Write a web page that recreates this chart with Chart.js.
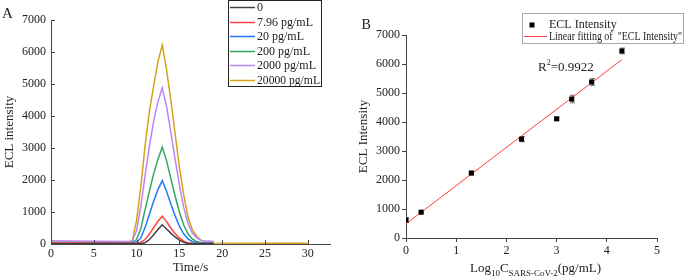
<!DOCTYPE html>
<html>
<head>
<meta charset="utf-8">
<script src="https://cdn.jsdelivr.net/npm/chart.js@4.4.1/dist/chart.umd.min.js"></script>
<style>
    html, body { margin: 0; padding: 0; background: #fff; }
    #wrap { position: relative; width: 685px; height: 280px; }
    #chartA { position: absolute; left: 0; top: 0; }
    #chartB { position: absolute; left: 340px; top: 0; }
</style>
</head>
<body>
<div id="wrap">
    <canvas id="chartA" width="340" height="280"></canvas>
    <canvas id="chartB" width="345" height="280"></canvas>
</div>
<script>
// ---- panel A data (time scan) ----
var times = [0, 5, 9, 9.5, 10, 10.5, 11, 11.5, 12, 12.5, 13, 13.5, 14, 14.5, 15, 15.5, 16, 16.5, 17, 17.5, 18, 19];
var timeTicks = [0, 5, 10, 15, 20, 25, 30];
var seriesLabels = ['0', '7.96 pg/mL', '20 pg/mL', '200 pg/mL', '2000 pg/mL', '20000 pg/mL'];
var seriesColors = ['#404040', '#ff4040', '#2277ff', '#30a860', '#b985f5', '#d6a21a'];
var blank0 = [10, 10, 10, 10, 10, 12, 40, 140, 290, 450, 600, 470, 340, 220, 120, 50, 15, 5, 5, 5, 5, 5];
var conc796 = [30, 28, 25, 25, 28, 55, 140, 310, 510, 710, 870, 700, 500, 330, 190, 90, 40, 20, 15, 15, 15, 15];
var conc20 = [30, 28, 26, 28, 55, 190, 520, 930, 1340, 1700, 1980, 1650, 1250, 880, 560, 320, 160, 80, 40, 25, 20, 20];
var conc200 = [45, 42, 38, 42, 140, 480, 1080, 1650, 2200, 2650, 3030, 2600, 2050, 1500, 1000, 600, 320, 160, 80, 50, 40, 35];
var conc2000 = [100, 88, 78, 90, 420, 1180, 2150, 3050, 3850, 4450, 4880, 4300, 3500, 2650, 1850, 1150, 650, 350, 200, 120, 90, 75];
var conc20000 = [55, 50, 45, 110, 740, 1800, 3100, 4150, 4950, 5700, 6220, 5450, 4500, 3450, 2400, 1550, 850, 450, 250, 120, 60, 30];
var tailTimes = [30];
var tail20000 = [20];

// ---- panel B data (calibration) ----
var logConc = [0, 0.301, 1.301, 2.301, 3.0, 3.301, 3.699, 4.301];
var eclMean = [620, 890, 2240, 3410, 4110, 4790, 5380, 6450];
var eclErr = [80, 40, 60, 90, 40, 130, 120, 100];
var fitX = [0, 4.301];
var fitY = [490, 6150];

var serif = "'Liberation Serif', 'Times New Roman', serif";
var axisColor = '#444';
var textColor = '#222';

function toPoints(xs, ys) {
    return xs.map(function (x, i) { return { x: x, y: ys[i] }; });
}

function plainNumber(v) {
    return String(v);
}

// inward tick marks for panel A
var innerTicks = {
    id: 'innerTicks',
    afterDraw: function (chart) {
        var ctx = chart.ctx, area = chart.chartArea;
        var xs = chart.scales.x, ys = chart.scales.y;
        ctx.save();
        ctx.strokeStyle = axisColor;
        ctx.lineWidth = 1;
        ctx.beginPath();
        xs.ticks.forEach(function (t) {
            var px = Math.round(xs.getPixelForValue(t.value)) + 0.5;
            ctx.moveTo(px, area.bottom);
            ctx.lineTo(px, area.bottom - 4);
        });
        ys.ticks.forEach(function (t) {
            var py = Math.round(ys.getPixelForValue(t.value)) + 0.5;
            ctx.moveTo(area.left, py);
            ctx.lineTo(area.left + 4, py);
        });
        ctx.stroke();
        ctx.restore();
    }
};

// boxed legend + panel letter for A
var legendA = {
    id: 'legendA',
    afterDraw: function (chart) {
        var ctx = chart.ctx;
        ctx.save();
        ctx.strokeStyle = '#222';
        ctx.lineWidth = 1;
        ctx.strokeRect(228.5, 0.5, 93, 86);
        ctx.font = '12px ' + serif;
        ctx.textBaseline = 'middle';
        ctx.fillStyle = textColor;
        chart.data.datasets.forEach(function (ds, i) {
            var y = Math.round(7 + i * 14.5) + 0.5;
            ctx.strokeStyle = ds.borderColor;
            ctx.lineWidth = 1.5;
            ctx.beginPath();
            ctx.moveTo(230, y);
            ctx.lineTo(255, y);
            ctx.stroke();
            ctx.fillText(ds.label, 257, y, 63);
        });
        ctx.font = '15px ' + serif;
        ctx.textBaseline = 'alphabetic';
        ctx.fillText('A', 2, 18);
        ctx.restore();
    }
};

var datasetsA = [blank0, conc796, conc20, conc200, conc2000, conc20000].map(function (vals, i) {
    var pts = toPoints(times, vals);
    if (i === 5) pts = pts.concat(toPoints(tailTimes, tail20000));
    return {
        label: seriesLabels[i],
        data: pts,
        borderColor: seriesColors[i],
        backgroundColor: seriesColors[i],
        borderWidth: 1.5,
        pointRadius: 0,
        tension: 0,
        fill: false
    };
});

var chartA = new Chart(document.getElementById('chartA').getContext('2d'), {
    type: 'line',
    data: { datasets: datasetsA },
    options: {
        responsive: false,
        animation: false,
        layout: { padding: { top: 20, right: 10, left: 0, bottom: 0 } },
        plugins: { legend: { display: false }, tooltip: { enabled: false } },
        scales: {
            x: {
                type: 'linear',
                min: 0,
                max: 32.6,
                afterBuildTicks: function (scale) {
                    scale.ticks = timeTicks.map(function (v) { return { value: v }; });
                },
                afterFit: function (scale) { scale.height = 36; },
                grid: { display: true, drawOnChartArea: false, drawTicks: false },
                border: { color: axisColor, width: 1 },
                ticks: { padding: 3, color: textColor, font: { family: serif, size: 12 }, maxRotation: 0, autoSkip: false, callback: plainNumber },
                title: { display: true, text: 'Time/s', color: textColor, font: { family: serif, size: 13, lineHeight: 1.2 }, padding: { top: 0, bottom: 5 } }
            },
            y: {
                min: 0,
                max: 7000,
                afterFit: function (scale) { scale.width = 51; },
                grid: { display: true, drawOnChartArea: false, drawTicks: false },
                border: { color: axisColor, width: 1 },
                ticks: { stepSize: 1000, padding: 5, color: textColor, font: { family: serif, size: 12 }, callback: plainNumber },
                title: { display: true, text: 'ECL intensity', color: textColor, font: { family: serif, size: 13, lineHeight: 1.2 }, padding: { top: 2, bottom: 0 } }
            }
        }
    },
    plugins: [innerTicks, legendA]
});

// error bars for panel B
var errorBars = {
    id: 'errorBars',
    beforeDatasetsDraw: function (chart) {
        var ctx = chart.ctx;
        var xs = chart.scales.x, ys = chart.scales.y;
        ctx.save();
        ctx.beginPath();
        ctx.rect(chart.chartArea.left, chart.chartArea.top - 20, chart.chartArea.width, chart.chartArea.height + 20);
        ctx.clip();
        ctx.strokeStyle = '#777';
        ctx.lineWidth = 1;
        ctx.beginPath();
        logConc.forEach(function (x, i) {
            var px = Math.round(xs.getPixelForValue(x)) + 0.5;
            var top = ys.getPixelForValue(eclMean[i] + eclErr[i]);
            var bot = ys.getPixelForValue(eclMean[i] - eclErr[i]);
            ctx.moveTo(px, top); ctx.lineTo(px, bot);
            ctx.moveTo(px - 2.5, top); ctx.lineTo(px + 2.5, top);
            ctx.moveTo(px - 2.5, bot); ctx.lineTo(px + 2.5, bot);
        });
        ctx.stroke();
        ctx.restore();
    }
};

// boxed legend, R2 note, panel letter and sub-scripted x title for B
var legendB = {
    id: 'legendB',
    afterDraw: function (chart) {
        var ctx = chart.ctx;
        var xs = chart.scales.x;
        ctx.save();
        ctx.strokeStyle = '#aaa';
        ctx.lineWidth = 1;
        ctx.strokeRect(182.5, 13.5, 161, 30);
        ctx.fillStyle = '#000';
        ctx.fillRect(189.5, 22.5, 5, 5);
        ctx.strokeStyle = '#ff3b3b';
        ctx.beginPath();
        ctx.moveTo(184, 36.5);
        ctx.lineTo(207, 36.5);
        ctx.stroke();
        ctx.fillStyle = textColor;
        ctx.font = '12px ' + serif;
        ctx.textBaseline = 'middle';
        ctx.fillText(chart.data.datasets[0].label, 209, 25);
        ctx.fillText(chart.data.datasets[1].label, 209, 37, 133);

        ctx.textBaseline = 'alphabetic';
        ctx.font = '13px ' + serif;
        var rx = 198;
        ctx.fillText('R', rx, 70.5);
        rx += ctx.measureText('R').width;
        ctx.font = '8px ' + serif;
        ctx.fillText('2', rx, 65);
        rx += ctx.measureText('2').width;
        ctx.font = '13px ' + serif;
        ctx.fillText('=0.9922', rx, 70.5);

        ctx.font = '14px ' + serif;
        ctx.fillText('B', 21.5, 28.5);

        // x axis title with subscripts
        var parts = [['Log', 13, 0], ['10', 9, 3.5], ['C', 13, 0], ['SARS-CoV-2', 9, 3.5], ['(pg/mL)', 13, 0]];
        var total = 0;
        parts.forEach(function (p) { ctx.font = p[1] + 'px ' + serif; total += ctx.measureText(p[0]).width; });
        var cx = (xs.left + xs.right) / 2 + 4 - total / 2;
        parts.forEach(function (p) {
            ctx.font = p[1] + 'px ' + serif;
            ctx.fillText(p[0], cx, 272 + p[2]);
            cx += ctx.measureText(p[0]).width;
        });
        ctx.restore();
    }
};

var chartB = new Chart(document.getElementById('chartB').getContext('2d'), {
    type: 'scatter',
    data: {
        datasets: [{
            label: 'ECL Intensity',
            data: toPoints(logConc, eclMean),
            pointStyle: 'rect',
            pointRadius: 3.6,
            backgroundColor: '#000',
            borderColor: '#000',
            borderWidth: 0,
            showLine: false
        }, {
            label: 'Linear fitting of  "ECL Intensity"',
            data: toPoints(fitX, fitY),
            borderColor: '#ff3b3b',
            backgroundColor: '#ff3b3b',
            borderWidth: 1,
            pointRadius: 0,
            showLine: true
        }]
    },
    options: {
        responsive: false,
        animation: false,
        layout: { padding: { top: 35, right: 28, left: 0, bottom: 0 } },
        plugins: { legend: { display: false }, tooltip: { enabled: false } },
        scales: {
            x: {
                type: 'linear',
                min: 0,
                max: 5,
                afterFit: function (scale) { scale.height = 42; },
                grid: { display: true, drawOnChartArea: false, drawTicks: true, tickLength: 4, color: axisColor },
                border: { color: axisColor, width: 1 },
                ticks: { stepSize: 1, padding: 2, color: textColor, font: { family: serif, size: 12 }, maxRotation: 0, callback: plainNumber },
                title: { display: false }
            },
            y: {
                min: 0,
                max: 7000,
                afterFit: function (scale) { scale.width = 66; },
                grid: { display: true, drawOnChartArea: false, drawTicks: true, tickLength: 4, color: axisColor },
                border: { color: axisColor, width: 1 },
                ticks: { stepSize: 1000, padding: 2, color: textColor, font: { family: serif, size: 12 }, callback: plainNumber },
                title: { display: true, text: 'ECL Intensity', color: textColor, font: { family: serif, size: 13, lineHeight: 1.2 }, padding: { top: 15.5, bottom: 0 } }
            }
        }
    },
    plugins: [errorBars, legendB]
});
</script>
</body>
</html>
